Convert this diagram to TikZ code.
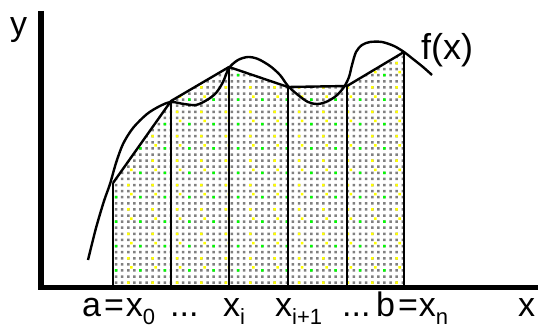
\documentclass[tikz,border=0pt]{standalone}
\usepackage{fontspec}
\setmainfont{Liberation Sans}
\newcommand\mysub[2]{\raisebox{-#1pt}{\fontsize{22}{22}\selectfont #2}}
\begin{document}
\begin{tikzpicture}[x=1pt,y=-1pt,
  axisline/.style={line width=5.5pt},
  partline/.style={line width=2.6pt},
  chordline/.style={line width=2.4pt, line join=round},
  curveline/.style={line width=2.4pt, line join=round},
  lbl/.style={anchor=base west, inner sep=0pt, font=\fontsize{34}{34}\selectfont},
  dotgray/.style={fill={rgb,255:red,128;green,128;blue,128}},
  dotyellow/.style={fill={rgb,255:red,255;green,255;blue,0}},
  dotgreen/.style={fill={rgb,255:red,0;green,255;blue,0}}]
\useasboundingbox (0,0) rectangle (538,331);
\fill[white] (0,0) rectangle (538,331);
% partition points on the curve
\coordinate (A0) at (113,183);
\coordinate (A1) at (171,101);
\coordinate (A2) at (229,67);
\coordinate (A3) at (288,87);
\coordinate (A4) at (347,86);
\coordinate (A5) at (404,52);
\coordinate (B0) at (113,287);
\coordinate (B1) at (171,287);
\coordinate (B2) at (229,287);
\coordinate (B3) at (288,287);
\coordinate (B4) at (347,287);
\coordinate (B5) at (404,287);
% dotted shading
\begin{scope}
\clip (B0) -- (A0) -- (A1) -- (A2) -- (A3) -- (A4) -- (A5) -- (B5) -- cycle;
\fill[dotgray] \foreach \c in {-1,...,47} { \foreach \r in {-23,...,17} { ({114.8+6.1*\c},{183.8+6.1*\r}) rectangle ++(2.5,2.5) } };
\fill[dotyellow] \foreach \c in {-2,2,...,46} { \foreach \r in {-24,-20,...,16} { ({114.8+6.1*\c},{183.8+6.1*\r}) rectangle ++(2.5,2.5) } };
\fill[dotyellow] \foreach \c in {-2,2,...,46} { \foreach \r in {-24,-20,...,16} { ({114.8+6.1*(\c+0.5)},{183.8+6.1*(\r+1.5)}) rectangle ++(2.5,2.5) } };
\fill[dotgreen] \foreach \c in {-4,0,...,44} { \foreach \r in {-22,-18,...,14} { ({114.8+6.1*\c},{183.8+6.1*\r}) rectangle ++(2.5,2.5) } };
\end{scope}
% partition lines
\foreach \i in {0,...,5} { \draw[partline] (A\i) -- (B\i); }
% chords
\draw[chordline] (A0) -- (A1) -- (A2) -- (A3) -- (A4) -- (A5);
% the function
\draw[curveline] plot[smooth, tension=0.5] coordinates {
 (88,260) (96,228) (104,201) (110,184) (116,163) (123,144) (133,128) (147,114)
 (160,106) (171,102) (184,104) (196,105) (207,100) (216,93) (223,82) (229,68)
 (238,60) (248,57) (258,59) (270,66) (280,75) (288,86) (298,95) (308,102)
 (317,104) (326,102) (336,96) (344,87) (349,77) (352,65) (356,52) (362,45)
 (370,42) (382,42) (394,46) (404,52) (413,59) (423,67) (432,75)};
% axes
\coordinate (O) at (41,287.5);
\coordinate (Ytop) at (41,11);
\coordinate (Xend) at (538,287.5);
\draw[axisline] (Ytop) -- ([yshift=2.75pt]O) ;
\draw[axisline] ([xshift=-2.75pt]O) -- (Xend);
% labels
\node[lbl] (ly) at (10,36) {y};
\node[lbl, font=\fontsize{36}{36}\selectfont] (lf) at (421,60) {f(x)};
\node[lbl] (la) at (82,316) {a\hspace{3pt}=\hspace{2pt}x\mysub{8}{0}};
\node[lbl] (ld1) at (170,316) {...};
\node[lbl] (lxi) at (223,316) {x\mysub{8}{i}};
\node[lbl] (lxi1) at (275,316) {x\mysub{8}{i+1}};
\node[lbl] (ld2) at (342,316) {...};
\node[lbl] (lb) at (376,316) {b\hspace{3pt}=\hspace{1pt}x\mysub{8}{n}};
\node[lbl] (lx) at (518,316) {x};
\end{tikzpicture}
\end{document}
